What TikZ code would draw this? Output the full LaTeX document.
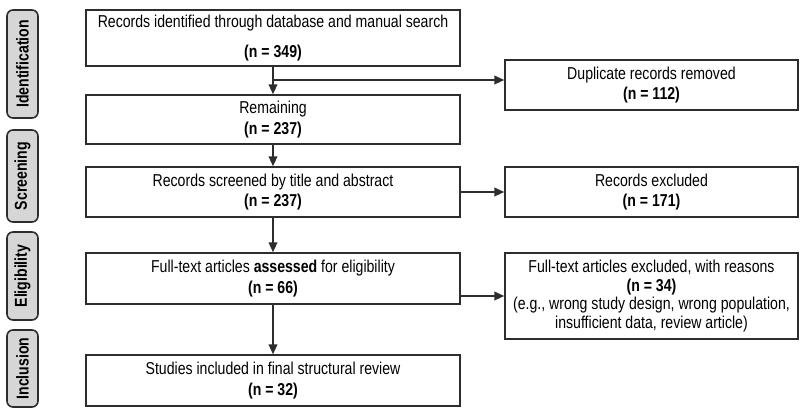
\documentclass[tikz,border=0pt]{standalone}
\usepackage{fontspec}
\setmainfont{Liberation Sans}[FakeStretch=0.82]
\definecolor{stagegray}{RGB}{214,214,214}
\definecolor{linegray}{RGB}{45,45,45}
\usetikzlibrary{arrows.meta,positioning}

\begin{document}
\begin{tikzpicture}[x=0.5pt,y=-0.5pt,
    every node/.style={font=\fontsize{8.6}{10.4}\selectfont,text=black},
    box/.style={draw=linegray,line width=0.75pt,minimum width=187pt,
                minimum height=25pt,align=center,inner sep=1pt},
    sidebox/.style={box,minimum width=146.5pt},
    stage/.style={draw=linegray,line width=0.8pt,fill=stagegray,rounded corners=3pt,
                  minimum height=15.5pt,rotate=90,font=\fontsize{8.6}{10}\selectfont\bfseries,
                  inner sep=0pt},
    arr/.style={-{Triangle[length=5pt,width=4.4pt]},line width=0.75pt,linegray}]
  \useasboundingbox (0,0) rectangle (800,408);

  %% Stage labels
  \node[stage,minimum width=54pt] (ident) at (22.5,64)    {Identification};
  \node[stage,minimum width=46pt] (scr)   at (22.5,176)   {Screening};
  \node[stage,minimum width=44pt] (elig)  at (22.5,276)   {Eligibility};
  \node[stage,minimum width=38.5pt] (incl) at (22.5,368.5) {Inclusion};

  %% Main flow
  \node[box,minimum height=28pt] (found) at (273,38)
    {Records identified through database and manual search\\[5pt]\textbf{(n = 349)}};
  \node[box,minimum height=24.5pt] (remain) at (273,119.5)
    {Remaining\\\textbf{(n = 237)}};
  \node[box] (screen) at (273,192)
    {Records screened by title and abstract\\\textbf{(n = 237)}};
  \node[box,minimum height=25.5pt] (assess) at (273,278.5)
    {Full-text articles \textbf{assessed} for eligibility\\\textbf{(n = 66)}};
  \node[box,minimum height=25.5pt] (final) at (273,380.5)
    {Studies included in final structural review\\\textbf{(n = 32)}};

  %% Exclusions
  \node[sidebox] (dup) at (651.5,85)
    {Duplicate records removed\\\textbf{(n = 112)}};
  \node[sidebox] (excl) at (651.5,192)
    {Records excluded\\\textbf{(n = 171)}};
  \node[sidebox,minimum height=43pt,font=\fontsize{8.6}{9.2}\selectfont] (ftex) at (651.5,296)
    {Full-text articles excluded, with reasons\\\textbf{(n = 34)}\\
     (e.g., wrong study design, wrong population,\\insufficient data, review article)};

  %% Arrows
  \coordinate (split) at (273,80);
  \draw[arr] (found) -- (remain);
  \draw[arr] (split) -- (split -| dup.west);
  \draw[arr] (remain) -- (screen);
  \draw[arr] (screen.east) -- (excl.west);
  \draw[arr] (screen) -- (assess);
  \draw[arr] (assess.east |- ftex.west) -- (ftex.west);
  \draw[arr] (assess) -- (final);
\end{tikzpicture}
\end{document}
